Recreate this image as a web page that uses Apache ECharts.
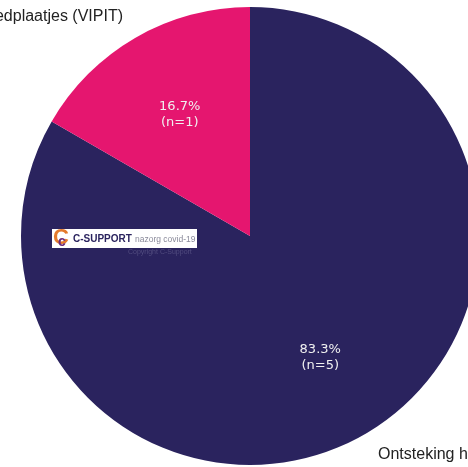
<!DOCTYPE html>
<html>
<head>
<meta charset="utf-8">
<script src="https://cdn.jsdelivr.net/npm/echarts@6/dist/echarts.min.js"></script>
<style>html,body{margin:0;padding:0;background:#fff}#c{width:468px;height:467px}</style>
</head>
<body>
<div id="c"></div>
<script>
const categories = ['Ontsteking hartspier', 'Tekort aan bloedplaatjes (VIPIT)'];
const counts = [5, 1];
const colors = ['#2a235e', '#e5166f'];

const chart = echarts.init(document.getElementById('c'), null, {renderer: 'canvas'});
const data = categories.map((n, i) => ({name: n, value: counts[i], itemStyle: {color: colors[i]}}));

chart.setOption({
  animation: false,
  series: [
    {
      type: 'pie',
      center: [250, 236],
      radius: [0, 229],
      startAngle: 90,
      clockwise: true,
      silent: true,
      percentPrecision: 1,
      data: data,
      label: {
        show: true,
        position: 'outside',
        formatter: '{b}',
        color: '#222222',
        fontFamily: 'Liberation Sans, Arial, sans-serif',
        fontSize: 16,
        overflow: 'none',
        width: 400
      },
      labelLine: {show: false},
      labelLayout: function (p) {
        if (p.dataIndex === 1) return {x: 123, y: 17, align: 'right', verticalAlign: 'middle'};
        return {x: 378, y: 455, align: 'left', verticalAlign: 'middle'};
      }
    },
    {
      type: 'pie',
      center: [250, 236],
      radius: [46, 229],
      startAngle: 90,
      clockwise: true,
      silent: true,
      percentPrecision: 1,
      data: categories.map((n, i) => ({name: n, value: counts[i]})),
      itemStyle: {color: 'rgba(0,0,0,0)'},
      label: {
        show: true,
        position: 'inside',
        formatter: function (p) { return p.percent.toFixed(1) + '%\n(n=' + p.value + ')'; },
        color: '#f0f0f0',
        fontFamily: 'DejaVu Sans, sans-serif',
        fontSize: 13,
        lineHeight: 16
      },
      labelLine: {show: false}
    }
  ],
  graphic: [
    {
      type: 'group',
      left: 52, top: 227, z: 100,
      children: [
        {type: 'rect', z: 100, shape: {x: 0, y: 0, width: 145, height: 19}, style: {fill: '#ffffff'}},
        {type: 'text', z: 101, x: 1, y: -2, style: {text: 'C', font: 'bold 22px Liberation Sans, Arial, sans-serif', fill: '#e47a2c'}},
        {type: 'text', z: 102, x: 6, y: 6, style: {text: 'c', font: 'bold 14px Liberation Sans, Arial, sans-serif', fill: '#6a2a7a'}},
        {type: 'text', z: 101, x: 21, y: 5, style: {text: 'C-SUPPORT', font: 'bold 10px Liberation Sans, Arial, sans-serif', fill: '#2a235e'}},
        {type: 'text', z: 101, x: 83, y: 6, style: {text: 'nazorg covid-19', font: '8.5px Liberation Sans, Arial, sans-serif', fill: '#8a8a9a'}}
      ]
    },
    {type: 'text', z: 100, left: 128, top: 249, style: {text: 'Copyright C-Support', font: '7px Liberation Sans, Arial, sans-serif', fill: 'rgba(120,115,160,0.5)'}}
  ]
});
</script>
</body>
</html>
